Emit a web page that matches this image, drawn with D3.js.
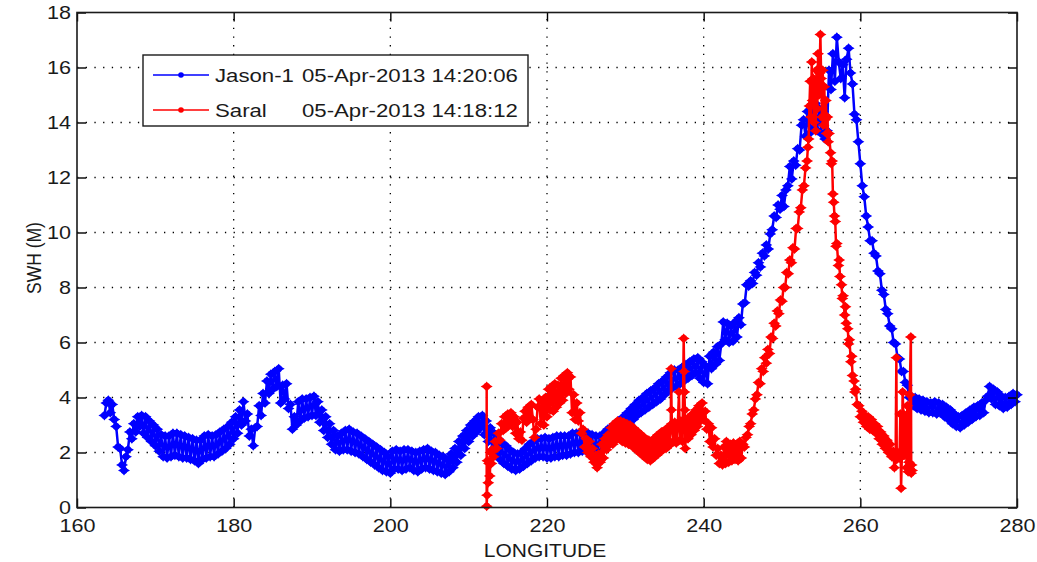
<!DOCTYPE html>
<html>
<head>
<meta charset="utf-8">
<script src="https://cdn.jsdelivr.net/npm/d3@7"></script>
<style>
  body { margin: 0; background: #fff; }
  text { font-family: "Liberation Sans", Arial, Helvetica, sans-serif; fill: #1a1a1a; }
</style>
</head>
<body>
<svg id="chart" width="1037" height="562"></svg>
<script>
// Axis ticks
const xTicks = [160, 180, 200, 220, 240, 260, 280];
const yTicks = [0, 2, 4, 6, 8, 10, 12, 14, 16, 18];

// Legend entries
const seriesNames = ["Jason-1", "Saral"];
const passTimes = ["05-Apr-2013 14:20:06", "05-Apr-2013 14:18:12"];
const seriesColors = ["#0000ff", "#ff0000"];

// Jason-1 along-track significant wave height: [longitude, SWH (m)]
const jasonTrack = [
  [163.5,3.35],[163.75,3.8],[164,3.9],[164.25,3.45],[164.5,3.75],[164.75,3.2],[165,2.95],[165.25,2.2],
  [165.5,2.15],[165.75,1.55],[166,1.35],[166.25,1.85],[166.5,2.1],[166.75,2.75],[167,2.5],[167.25,3.05],
  [167.5,2.75],[167.75,3.3],[168,2.95],[168.25,3.35],[168.5,2.7],[168.75,3.3],[169,2.55],[169.25,3.15],
  [169.5,2.4],[169.75,3.0],[170,2.25],[170.25,2.85],[170.5,2.05],[170.75,2.65],[171,1.85],[171.25,2.6],
  [171.5,1.8],[171.75,2.6],[172,1.85],[172.25,2.7],[172.5,1.9],[172.75,2.7],[173,1.85],[173.25,2.65],
  [173.5,1.8],[173.75,2.6],[174,1.8],[174.25,2.55],[174.5,1.75],[174.75,2.5],[175,1.7],[175.25,2.45],
  [175.5,1.6],[175.75,2.45],[176,1.75],[176.25,2.6],[176.5,1.8],[176.75,2.65],[177,1.85],[177.25,2.6],
  [177.5,1.85],[177.75,2.65],[178,1.95],[178.25,2.75],[178.5,2.05],[178.75,2.85],[179,2.15],[179.25,2.95],
  [179.5,2.3],[179.75,3.1],[180,2.5],[180.25,3.3],[180.5,2.7],[180.75,3.55],[181,3.0],[181.25,3.85],
  [181.5,3.15],[181.75,3.4],[182,2.6],[182.25,2.85],[182.5,2.25],[182.75,2.9],[183,2.95],[183.25,3.7],
  [183.5,3.35],[183.75,4.15],[184,3.8],[184.25,4.6],[184.5,4.15],[184.75,4.85],[185,4.3],[185.25,4.95],
  [185.5,4.4],[185.75,5.05],[186,3.8],[186.25,4.45],[186.5,3.95],[186.75,4.5],[187,3.6],[187.25,3.75],
  [187.5,2.85],[187.75,3.3],[188,3.0],[188.25,3.85],[188.5,3.15],[188.75,3.95],[189,3.25],[189.25,3.95],
  [189.5,3.3],[189.75,4.0],[190,3.35],[190.25,4.05],[190.5,3.35],[190.75,3.85],[191,3.1],[191.25,3.55],
  [191.5,2.8],[191.75,3.3],[192,2.55],[192.25,3.05],[192.5,2.3],[192.75,2.8],[193,2.1],[193.25,2.6],
  [193.5,2.05],[193.75,2.7],[194,2.1],[194.25,2.8],[194.5,2.1],[194.75,2.85],[195,2.05],[195.25,2.75],
  [195.5,2.0],[195.75,2.7],[196,1.95],[196.25,2.6],[196.5,1.85],[196.75,2.5],[197,1.75],[197.25,2.4],
  [197.5,1.65],[197.75,2.3],[198,1.55],[198.25,2.2],[198.5,1.45],[198.75,2.1],[199,1.35],[199.25,2.0],
  [199.5,1.3],[199.75,1.85],[200,1.25],[200.25,2.05],[200.5,1.4],[200.75,2.1],[201,1.4],[201.25,2.05],
  [201.5,1.35],[201.75,2.1],[202,1.4],[202.25,2.1],[202.5,1.45],[202.75,2.05],[203,1.35],[203.25,2.0],
  [203.5,1.3],[203.75,2.05],[204,1.4],[204.25,2.1],[204.5,1.45],[204.75,2.15],[205,1.4],[205.25,2.05],
  [205.5,1.35],[205.75,2.0],[206,1.3],[206.25,1.9],[206.5,1.25],[206.75,1.85],[207,1.2],[207.25,1.75],
  [207.5,1.3],[207.75,1.95],[208,1.45],[208.25,2.15],[208.5,1.65],[208.75,2.4],[209,1.9],[209.25,2.6],
  [209.5,2.15],[209.75,2.8],[210,2.4],[210.25,3.0],[210.5,2.6],[210.75,3.15],[211,2.75],[211.25,3.3],
  [211.5,2.9],[211.75,3.35],[212,2.65],[212.25,3.15],[212.5,2.4],[212.75,2.9],[213,2.1],[213.25,2.7],
  [213.5,1.9],[213.75,2.5],[214,1.75],[214.25,2.35],[214.5,1.6],[214.75,2.25],[215,1.5],[215.25,2.1],
  [215.5,1.4],[215.75,2.0],[216,1.35],[216.25,1.95],[216.5,1.4],[216.75,2.0],[217,1.5],[217.25,2.15],
  [217.5,1.6],[217.75,2.3],[218,1.7],[218.25,2.4],[218.5,1.8],[218.75,2.5],[219,1.85],[219.25,2.5],
  [219.5,1.85],[219.75,2.55],[220,1.8],[220.25,2.5],[220.5,1.8],[220.75,2.55],[221,1.85],[221.25,2.6],
  [221.5,1.85],[221.75,2.6],[222,1.9],[222.25,2.6],[222.5,1.9],[222.75,2.6],[223,1.95],[223.25,2.7],
  [223.5,2.0],[223.75,2.7],[224,2.0],[224.25,2.7],[224.5,2.05],[224.75,2.75],[225,2.05],[225.25,2.7],
  [225.5,2.0],[225.75,2.65],[226,1.95],[226.25,2.6],[226.5,2.0],[226.75,2.6],[227,2.05],[227.25,2.7],
  [227.5,2.2],[227.75,2.85],[228,2.3],[228.25,2.95],[228.5,2.45],[228.75,3.05],[229,2.6],[229.25,3.15],
  [229.5,2.75],[229.75,3.3],[230,2.9],[230.25,3.45],[230.5,3.05],[230.75,3.6],[231,3.2],[231.25,3.75],
  [231.5,3.35],[231.75,3.9],[232,3.45],[232.25,4.0],[232.5,3.55],[232.75,4.15],[233,3.65],[233.25,4.25],
  [233.5,3.75],[233.75,4.35],[234,3.85],[234.25,4.5],[234.5,3.95],[234.75,4.6],[235,4.1],[235.25,4.75],
  [235.5,4.25],[235.75,4.9],[236,4.35],[236.25,5.0],[236.5,4.4],[236.75,5.0],[237,4.5],[237.25,5.1],
  [237.5,4.6],[237.75,5.2],[238,4.7],[238.25,5.3],[238.5,4.8],[238.75,5.4],[239,4.9],[239.25,5.45],
  [239.5,4.7],[239.75,5.3],[240,4.55],[240.25,5.15],[240.5,4.5],[240.75,5.5],[241,5.05],[241.25,5.65],
  [241.5,5.2],[241.75,5.85],[242,5.35],[242.25,5.95],[242.5,6.75],[242.75,6.1],[243,6.7],[243.25,6.0],
  [243.5,6.6],[243.75,6.05],[244,6.75],[244.25,6.2],[244.5,6.9],[244.75,6.65],[245,7.4],[245.25,7.45],
  [245.5,8.1],[245.75,8.05],[246,8.25],[246.25,8.15],[246.5,8.55],[246.75,8.45],[247,8.9],[247.25,8.75],
  [247.5,9.25],[247.75,9.15],[248,9.55],[248.25,9.4],[248.5,9.95],[248.75,10.1],[249,10.6],[249.25,10.55],
  [249.5,11.0],[249.75,10.85],[250,11.35],[250.25,10.95],[250.5,11.55],[250.75,11.7],[251,12.4],[251.25,11.95],
  [251.5,12.6],[251.75,12.45],[252,13.05],[252.25,13.0],[252.5,13.9],[252.75,14.1],[253,13.5],[253.25,14.4],
  [253.5,13.6],[253.75,14.6],[254,13.8],[254.25,14.7],[254.5,13.7],[254.75,14.5],[255,13.6],[255.25,14.4],
  [255.5,13.4],[255.75,13.7],[256,15.9],[256.25,15.2],[256.5,16.5],[256.75,15.5],[257,17.1],[257.25,16.2],
  [257.5,15.6],[257.75,16.1],[258,14.9],[258.25,16.3],[258.5,16.7],[258.75,15.8],[259,15.4],[259.25,14.3],
  [259.5,14.1],[259.75,13.3],[260,12.5],[260.25,11.7],[260.5,11.3],[260.75,10.6],[261,10.2],[261.25,9.7],
  [261.5,9.7],[261.75,9.25],[262,9.15],[262.25,8.6],[262.5,8.5],[262.75,7.9],[263,7.75],[263.25,7.2],
  [263.5,7.05],[263.75,6.6],[264,6.5],[264.25,6.0],[264.5,5.95],[264.75,5.45],[265,5.4],[265.25,4.95],
  [265.5,4.95],[265.75,4.55],[266,4.45],[266.25,4.0],[266.5,4.05],[266.75,3.7],[267,4.0],[267.25,3.6],
  [267.5,3.95],[267.75,3.55],[268,3.9],[268.25,3.5],[268.5,3.85],[268.75,3.45],[269,3.8],[269.25,3.45],
  [269.5,3.85],[269.75,3.4],[270,3.8],[270.25,3.45],[270.5,3.75],[270.75,3.3],[271,3.65],[271.25,3.2],
  [271.5,3.55],[271.75,3.05],[272,3.4],[272.25,2.95],[272.5,3.3],[272.75,2.9],[273,3.35],[273.25,3.0],
  [273.5,3.45],[273.75,3.1],[274,3.55],[274.25,3.2],[274.5,3.65],[274.75,3.3],[275,3.7],[275.25,3.35],
  [275.5,3.8],[275.75,3.45],[276,3.9],[276.25,4.05],[276.5,4.4],[276.75,3.95],[277,4.3],[277.25,3.75],
  [277.5,4.2],[277.75,3.7],[278,4.05],[278.25,3.6],[278.5,4.0],[278.75,3.65],[279,4.05],[279.25,3.75],
  [279.5,4.15],[279.75,3.85],[280,4.1]
];

// Saral along-track significant wave height: [longitude, SWH (m)]
const saralTrack = [
  [212.3,4.4],[212.3,0.05],[212.35,0.45],[212.4,1.7],[212.5,0.9],[212.6,1.6],[212.7,1.15],[212.8,2.0],
  [212.9,1.6],[213,2.1],[213.2,1.85],[213.4,2.4],[213.6,2.15],[213.8,2.7],[214,2.45],[214.2,3.05],
  [214.4,2.8],[214.6,3.3],[214.8,2.9],[215,3.4],[215.2,3.0],[215.4,3.45],[215.6,2.95],[215.8,3.3],
  [216,2.7],[216.2,3.1],[216.4,2.5],[216.6,2.75],[216.8,2.45],[217,3.25],[217.2,3.5],[217.4,3.1],
  [217.6,3.65],[217.8,3.25],[218,3.75],[218.2,3.2],[218.4,2.55],[218.6,2.85],[218.8,3.65],[219,3.95],
  [219.2,3.05],[219.4,3.85],[219.6,3.0],[219.8,4.0],[220,3.3],[220.2,4.3],[220.4,3.55],[220.6,4.4],
  [220.8,3.5],[221,4.5],[221.2,3.65],[221.4,4.45],[221.6,3.8],[221.8,4.7],[222,3.9],[222.2,4.8],
  [222.4,4.15],[222.6,4.9],[222.8,4.3],[223,4.75],[223.2,3.45],[223.4,4.1],[223.6,3.2],[223.8,3.8],
  [224,3.15],[224.2,3.45],[224.4,2.7],[224.6,2.85],[224.8,2.2],[225,2.5],[225.2,2.0],[225.4,2.4],
  [225.6,1.85],[225.8,2.15],[226,1.65],[226.2,1.9],[226.4,1.45],[226.6,1.95],[226.8,1.65],[227,2.3],
  [227.2,1.8],[227.4,2.5],[227.6,2.1],[227.8,2.65],[228,2.3],[228.2,2.9],[228.4,2.3],[228.6,3.05],
  [228.8,2.45],[229,3.15],[229.2,2.5],[229.4,3.15],[229.6,2.4],[229.8,3.1],[230,2.35],[230.2,3.05],
  [230.4,2.3],[230.6,3.0],[230.8,2.25],[231,2.9],[231.2,2.15],[231.4,2.8],[231.6,2.05],[231.8,2.7],
  [232,1.95],[232.2,2.6],[232.4,1.85],[232.6,2.5],[232.8,1.75],[233,2.45],[233.2,1.7],[233.4,2.4],
  [233.6,1.8],[233.8,2.55],[234,1.9],[234.2,2.65],[234.4,2.0],[234.6,2.75],[234.8,2.1],[235,2.8],
  [235.2,2.15],[235.4,2.9],[235.6,2.25],[235.8,2.95],[235.85,5.05],[235.9,3.55],[235.95,3.05],[236.1,2.4],
  [236.3,3.1],[236.5,2.35],[236.7,3.05],[236.85,4.2],[236.95,2.45],[237.1,3.15],[237.3,2.4],[237.45,6.15],
  [237.5,4.95],[237.55,4.2],[237.6,3.55],[237.65,2.15],[237.8,3.15],[238,2.5],[238.2,3.3],[238.4,2.65],
  [238.6,3.4],[238.8,2.8],[239,3.55],[239.2,2.95],[239.4,3.7],[239.6,3.15],[239.8,3.8],[240,3.2],
  [240.2,3.5],[240.4,2.85],[240.6,3.05],[240.8,2.4],[241,2.9],[241.2,2.2],[241.4,2.5],[241.6,1.9],
  [241.8,2.15],[242,1.6],[242.2,1.9],[242.4,1.55],[242.6,2.2],[242.8,1.6],[242.9,2.4],[243,2.15],
  [243.2,1.65],[243.4,2.3],[243.6,1.7],[243.8,2.35],[244,1.75],[244.2,2.3],[244.4,1.7],[244.6,2.4],
  [244.8,1.8],[245,2.3],[245.2,2.2],[245.4,2.55],[245.6,2.65],[245.8,2.95],[246,3.05],[246.2,3.4],
  [246.4,3.55],[246.6,3.95],[246.8,4.1],[247,4.55],[247.2,4.5],[247.4,5.05],[247.6,4.95],[247.8,5.45],
  [248,5.25],[248.2,5.75],[248.4,5.6],[248.6,6.2],[248.8,6.15],[249,6.7],[249.2,6.6],[249.4,7.15],
  [249.6,7.05],[249.8,7.55],[250,7.5],[250.2,8.0],[250.4,8.0],[250.6,8.55],[250.8,8.5],[251,9.0],
  [251.2,8.9],[251.4,9.45],[251.6,9.4],[251.8,10.15],[252,10.15],[252.2,10.75],[252.4,10.9],[252.6,11.55],
  [252.8,11.7],[253,12.35],[253.2,12.6],[253.3,13.1],[253.4,13.4],[253.5,14.6],[253.6,15.5],[253.7,14.2],
  [253.8,16.2],[253.9,14.8],[254,15.6],[254.1,14.0],[254.2,15.4],[254.3,13.7],[254.4,15.9],[254.5,14.5],
  [254.6,16.5],[254.7,15.0],[254.8,15.8],[254.9,17.2],[255,15.6],[255.1,14.2],[255.2,15.9],[255.3,13.9],
  [255.4,15.3],[255.5,14.1],[255.6,14.8],[255.7,13.6],[255.8,14.2],[255.9,13.3],[256,13.6],[256.2,12.9],
  [256.3,12.5],[256.4,12.6],[256.5,11.4],[256.6,11.1],[256.7,10.6],[256.8,10.4],[256.9,9.5],[257,9.6],
  [257.2,8.8],[257.3,9.0],[257.4,8.4],[257.6,8.1],[257.7,7.6],[257.8,7.7],[258,7.0],[258.1,7.3],
  [258.2,6.7],[258.4,6.5],[258.5,5.95],[258.6,6.1],[258.8,5.3],[258.9,5.5],[259,4.8],[259.2,4.6],
  [259.3,4.2],[259.4,4.3],[259.6,3.75],[259.8,3.7],[260,3.3],[260.2,3.5],[260.4,3.1],[260.6,3.35],
  [260.8,2.95],[261,3.3],[261.2,2.85],[261.4,3.2],[261.6,2.8],[261.8,3.05],[262,2.7],[262.2,2.95],
  [262.4,2.5],[262.6,2.75],[262.8,2.3],[263,2.6],[263.2,2.15],[263.4,2.45],[263.6,2.0],[263.8,2.3],
  [264,1.85],[264.2,2.05],[264.35,1.45],[264.5,1.75],[264.6,5.45],[264.65,1.75],[264.8,2.0],[265,1.8],
  [265.1,3.4],[265.2,0.7],[265.3,1.85],[265.4,4.2],[265.5,3.4],[265.6,1.9],[265.8,3.3],[265.9,1.45],
  [266,3.7],[266.1,1.3],[266.2,1.65],[266.3,4.1],[266.45,6.2],[266.5,1.25],[266.55,1.55],[266.6,1.35]
];

const series = [jasonTrack, saralTrack];

// Layout
const W = 1037, H = 562;
const plot = { left: 77, right: 1017, top: 12.5, bottom: 507.5 };
const textStretch = 1.2;   // glyphs are drawn slightly wide

const svg = d3.select("#chart");
svg.append("rect").attr("width", W).attr("height", H).attr("fill", "#fff");

const x = d3.scaleLinear().domain([xTicks[0], xTicks[xTicks.length - 1]]).range([plot.left, plot.right]);
const y = d3.scaleLinear().domain([yTicks[0], yTicks[yTicks.length - 1]]).range([plot.bottom, plot.top]);

// Dotted grid
const grid = svg.append("g")
  .attr("stroke", "#000")
  .attr("stroke-width", 1.3)
  .attr("stroke-dasharray", "1.3 7.4");
grid.selectAll("line.gx").data(xTicks.slice(1, -1)).join("line")
  .attr("class", "gx")
  .attr("x1", d => x(d)).attr("x2", d => x(d))
  .attr("y1", plot.bottom).attr("y2", plot.top);
grid.selectAll("line.gy").data(yTicks.slice(1, -1)).join("line")
  .attr("class", "gy")
  .attr("y1", d => y(d)).attr("y2", d => y(d))
  .attr("x1", plot.left).attr("x2", plot.right);

// Data: connecting line plus a marker on every sample
const starPath = "M0,-5L2.2,-2.2L6,0L2.2,2.2L0,5L-2.2,2.2L-6,0L-2.2,-2.2Z";
const line = d3.line().x(d => x(d[0])).y(d => y(d[1]));
svg.append("clipPath").attr("id", "plotclip")
  .append("rect")
  .attr("x", plot.left).attr("y", plot.top - 8)
  .attr("width", plot.right - plot.left + 8).attr("height", plot.bottom - plot.top + 16);

series.forEach((track, i) => {
  const g = svg.append("g").attr("clip-path", "url(#plotclip)");
  g.append("path")
    .datum(track)
    .attr("fill", "none")
    .attr("stroke", seriesColors[i])
    .attr("stroke-width", 2.5)
    .attr("stroke-linejoin", "round")
    .attr("d", line);
  const m = g.append("g").attr("fill", seriesColors[i]);
  m.selectAll("path").data(track).join("path")
    .attr("transform", d => `translate(${x(d[0])},${y(d[1])})`)
    .attr("d", starPath);
  m.selectAll("circle").data(track).join("circle")
    .attr("cx", d => x(d[0])).attr("cy", d => y(d[1]))
    .attr("r", 3.4);
});

// Axes (ticks point inward, as on a boxed plot)
const tickLen = 9;
function styleAxis(g) {
  g.select(".domain").remove();
  g.selectAll(".tick line").attr("stroke", "#000").attr("stroke-width", 1.4);
}

const xAxis = svg.append("g")
  .attr("transform", `translate(0,${plot.bottom})`)
  .call(d3.axisBottom(x).tickValues(xTicks).tickFormat(d3.format("d"))
        .tickSizeInner(-tickLen).tickSizeOuter(0).tickPadding(11.5));
styleAxis(xAxis);
xAxis.selectAll(".tick text")
  .attr("font-size", 18)
  .attr("fill", "#1a1a1a")
  .attr("font-family", "Liberation Sans, Arial, sans-serif")
  .attr("transform", `scale(${textStretch},1)`);

const yAxis = svg.append("g")
  .attr("transform", `translate(${plot.left},0)`)
  .call(d3.axisLeft(y).tickValues(yTicks).tickFormat(d3.format("d"))
        .tickSizeInner(-tickLen).tickSizeOuter(0).tickPadding(5));
styleAxis(yAxis);
yAxis.selectAll(".tick text")
  .attr("font-size", 18)
  .attr("fill", "#1a1a1a")
  .attr("font-family", "Liberation Sans, Arial, sans-serif")
  .attr("transform", `scale(${textStretch},1)`);

const xTop = svg.append("g")
  .attr("transform", `translate(0,${plot.top})`)
  .call(d3.axisTop(x).tickValues(xTicks).tickFormat("").tickSizeInner(-tickLen).tickSizeOuter(0));
styleAxis(xTop);

const yRight = svg.append("g")
  .attr("transform", `translate(${plot.right},0)`)
  .call(d3.axisRight(y).tickValues(yTicks).tickFormat("").tickSizeInner(-tickLen).tickSizeOuter(0));
styleAxis(yRight);

// Frame
svg.append("rect")
  .attr("x", plot.left).attr("y", plot.top)
  .attr("width", plot.right - plot.left).attr("height", plot.bottom - plot.top)
  .attr("fill", "none").attr("stroke", "#1a1a1a").attr("stroke-width", 1.6);

// Axis titles
svg.append("text")
  .attr("transform", `translate(545,557) scale(${textStretch},1)`)
  .attr("text-anchor", "middle")
  .attr("font-size", 17.5)
  .text("LONGITUDE");

svg.append("text")
  .attr("transform", `translate(41,258) scale(${textStretch},1) rotate(-90)`)
  .attr("text-anchor", "middle")
  .attr("font-size", 17.5)
  .text("SWH (M)");

// Legend
const legend = { x: 143, y: 55, w: 385, h: 71, row0: 75, rowGap: 35 };
const lg = svg.append("g");
lg.append("rect")
  .attr("x", legend.x).attr("y", legend.y)
  .attr("width", legend.w).attr("height", legend.h)
  .attr("fill", "#fff").attr("stroke", "#1a1a1a").attr("stroke-width", 1.4);

seriesNames.forEach((name, i) => {
  const cy = legend.row0 + i * legend.rowGap;
  lg.append("line")
    .attr("x1", 153).attr("x2", 209).attr("y1", cy).attr("y2", cy)
    .attr("stroke", seriesColors[i]).attr("stroke-width", 1.6);
  lg.append("circle").attr("cx", 181).attr("cy", cy).attr("r", 2.8).attr("fill", seriesColors[i]);
  lg.append("text")
    .attr("transform", `translate(215,${cy + 6.5}) scale(${textStretch},1)`)
    .attr("font-size", 18.5)
    .text(name);
  lg.append("text")
    .attr("transform", `translate(302,${cy + 6.5}) scale(${textStretch},1)`)
    .attr("font-size", 18.5)
    .text(passTimes[i]);
});
</script>
</body>
</html>
